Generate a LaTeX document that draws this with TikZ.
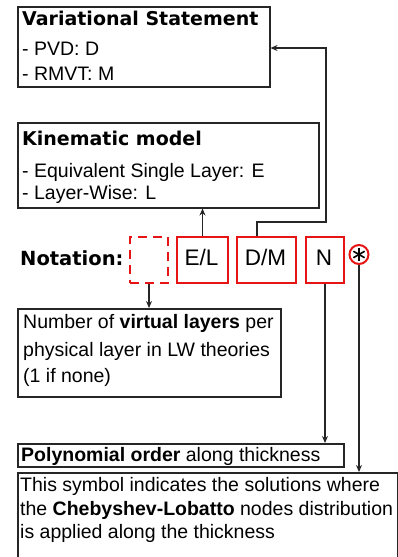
\documentclass[tikz,border=0pt]{standalone}
\usepackage{fontspec}
\setmainfont{Liberation Sans}
\newfontfamily\tfont{DejaVu Sans}
\usetikzlibrary{arrows.meta}
\definecolor{boxred}{RGB}{230,20,20}
\tikzset{
  x=1pt, y=-1pt,
  blackbox/.style={draw=black!85, line width=1.5pt, inner sep=0pt},
  redbox/.style={draw=boxred, line width=2pt, inner sep=0pt, font=\fontsize{22.5}{26}\selectfont},
  txt/.style={inner sep=0pt, anchor=base west, font=\fontsize{19.5}{23}\selectfont},
  ttl/.style={inner sep=0pt, anchor=base west, font=\tfont\bfseries\fontsize{19}{22}\selectfont},
  conn/.style={draw=black!85, line width=1.5pt},
  arr/.style={conn, -{Stealth[length=7pt,width=6pt]}},
}
\begin{document}
\begin{tikzpicture}
\useasboundingbox (0,0) rectangle (398,557);
% Variational statement box
\node[blackbox, minimum width=252pt, minimum height=80pt, anchor=north west] (vs) at (17,6) {};
\node[ttl] (vst) at (22,25) {Variational Statement};
\node[txt] (vs1) at (22,55) {- PVD: D};
\node[txt] (vs2) at (22,80) {- RMVT: M};
% Kinematic model box
\node[blackbox, minimum width=301pt, minimum height=85pt, anchor=north west] (km) at (17,122) {};
\node[ttl] (kmt) at (22,145) {Kinematic model};
\node[txt] (km1) at (22,177) {- Equivalent Single Layer: E};
\node[txt] (km2) at (22,199) {- Layer-Wise: L};
% Notation row
\node[ttl, font=\tfont\bfseries\fontsize{19.5}{22}\selectfont] (nt) at (20,265) {Notation:};
\node[redbox, dashed, dash pattern=on 9pt off 6pt, minimum width=38pt, minimum height=46pt, anchor=north west] (vl) at (129,236) {};
\node[redbox, minimum width=51pt, minimum height=46pt, anchor=north west] (el) at (176,236) {};
\node[txt, font=\fontsize{22.5}{26}\selectfont, anchor=base] (elt) at (201.5,265) {E/L};
\node[redbox, minimum width=59pt, minimum height=46pt, anchor=north west] (dm) at (236,236) {};
\node[txt, font=\fontsize{22.5}{26}\selectfont, anchor=base] (dmt) at (265.5,265) {D/M};
\node[redbox, minimum width=38pt, minimum height=46pt, anchor=north west] (n) at (305,236) {};
\node[txt, font=\fontsize{22.5}{26}\selectfont, anchor=base] (nn) at (324,265) {N};
\node[draw=boxred, line width=2pt, circle, minimum size=19pt, inner sep=0pt] (st) at (359,254.5) {};
\foreach \a in {90,30,-30}{
  \draw[line width=1.6pt, black] (st.center) ++(\a:6.5) -- ++(\a+180:13);
}
% Number of virtual layers box
\node[blackbox, minimum width=263pt, minimum height=88pt, anchor=north west] (nb) at (17,308) {};
\node[txt] (nb1) at (23,328) {Number of \textbf{virtual layers} per};
\node[txt] (nb2) at (23,356) {physical layer in LW theories};
\node[txt] (nb3) at (23,382) {(1 if none)};
% Polynomial order box
\node[blackbox, minimum width=326pt, minimum height=23pt, anchor=north west] (po) at (17,443) {};
\node[txt] (pot) at (21,461) {\textbf{Polynomial order} along thickness};
% Chebyshev box
\node[blackbox, minimum width=380pt, minimum height=85pt, anchor=north west] (cl) at (17,472) {};
\node[txt] (cl1) at (20,491) {This symbol indicates the solutions where};
\node[txt] (cl2) at (20,515) {the \textbf{Chebyshev-Lobatto} nodes distribution};
\node[txt] (cl3) at (20,538) {is applied along the thickness};
% connectors
\draw[arr] (el.north) -- (el.north |- km.south);
\draw[arr] ([xshift=21pt]dm.north west) |- (326,222) |- (vs.east |- 0,48);
\draw[arr] ([xshift=20pt]vl.south west) -- ([xshift=20pt]vl.south west |- nb.north);
\draw[arr] (n.south) -- (n.south |- po.north);
\draw[arr] (st.south) -- (st.south |- cl.north);
\end{tikzpicture}
\end{document}
